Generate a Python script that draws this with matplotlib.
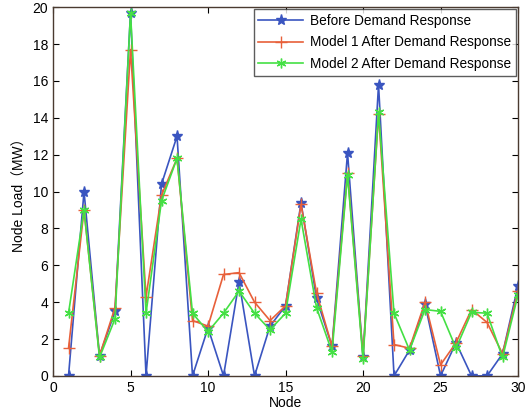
import matplotlib
matplotlib.use("Agg")
import matplotlib.pyplot as plt

plt.rcParams["font.family"] = ["Liberation Sans", "Noto Sans CJK SC", "DejaVu Sans"]

nodes = list(range(1, 31))
before = [0, 10.0, 1.1, 3.5, 19.7, 0, 10.4, 13.0, 0, 2.6,
          0, 5.1, 0, 2.7, 3.8, 9.4, 4.2, 1.6, 12.1, 1.0,
          15.8, 0, 1.4, 3.9, 0, 1.8, 0, 0, 1.2, 4.9]
model1 = [1.5, 9.0, 1.1, 3.7, 17.7, 4.3, 9.8, 11.8, 3.0, 2.7,
          5.5, 5.6, 4.0, 3.0, 3.8, 9.3, 4.5, 1.6, 11.0, 1.1,
          14.2, 1.7, 1.5, 4.0, 0.6, 1.8, 3.6, 2.9, 1.2, 4.6]
model2 = [3.4, 9.0, 1.0, 3.1, 19.7, 3.4, 9.5, 11.8, 3.4, 2.4,
          3.4, 4.6, 3.4, 2.5, 3.4, 8.5, 3.7, 1.3, 10.9, 0.9,
          14.3, 3.4, 1.4, 3.6, 3.5, 1.5, 3.45, 3.4, 1.0, 4.4]
labels = ["Before Demand Response",
          "Model 1 After Demand Response",
          "Model 2 After Demand Response"]

fig = plt.figure(figsize=(5.27, 4.2), dpi=100)
ax = fig.add_axes([0.1006, 0.105, 0.8824, 0.878])

ax.plot(nodes, before, color="#3a55c0", marker="*", markersize=8, linewidth=1.2, label=labels[0])
ax.plot(nodes, model1, color="#e8603a", marker="+", markersize=8, linewidth=1.2, label=labels[1])
ax.plot(nodes, model2, color="#44e044", marker=(6, 2, 0), markersize=7, linewidth=1.2, label=labels[2])

ax.set_xlim(0, 30)
ax.set_ylim(0, 20)
ax.set_xticks(range(0, 31, 5))
ax.set_yticks(range(0, 21, 2))
ax.tick_params(direction="in", labelsize=10, length=4, top=True, right=True,
               labeltop=False, labelright=False)
ax.set_xlabel("Node", fontsize=10, labelpad=1)
ax.set_ylabel("Node Load（MW）", fontsize=10, labelpad=4)

for s in ax.spines.values():
    s.set_color("#4a3a30")
    s.set_linewidth(1.0)

leg = ax.legend(loc="upper right", fontsize=9.8, frameon=True, fancybox=False,
                borderaxespad=0.15, borderpad=0.35, handlelength=3.3,
                handletextpad=0.5, labelspacing=0.55)
leg.get_frame().set_edgecolor("#333333")
leg.get_frame().set_linewidth(1.0)

fig.savefig("out.png", dpi=100)
